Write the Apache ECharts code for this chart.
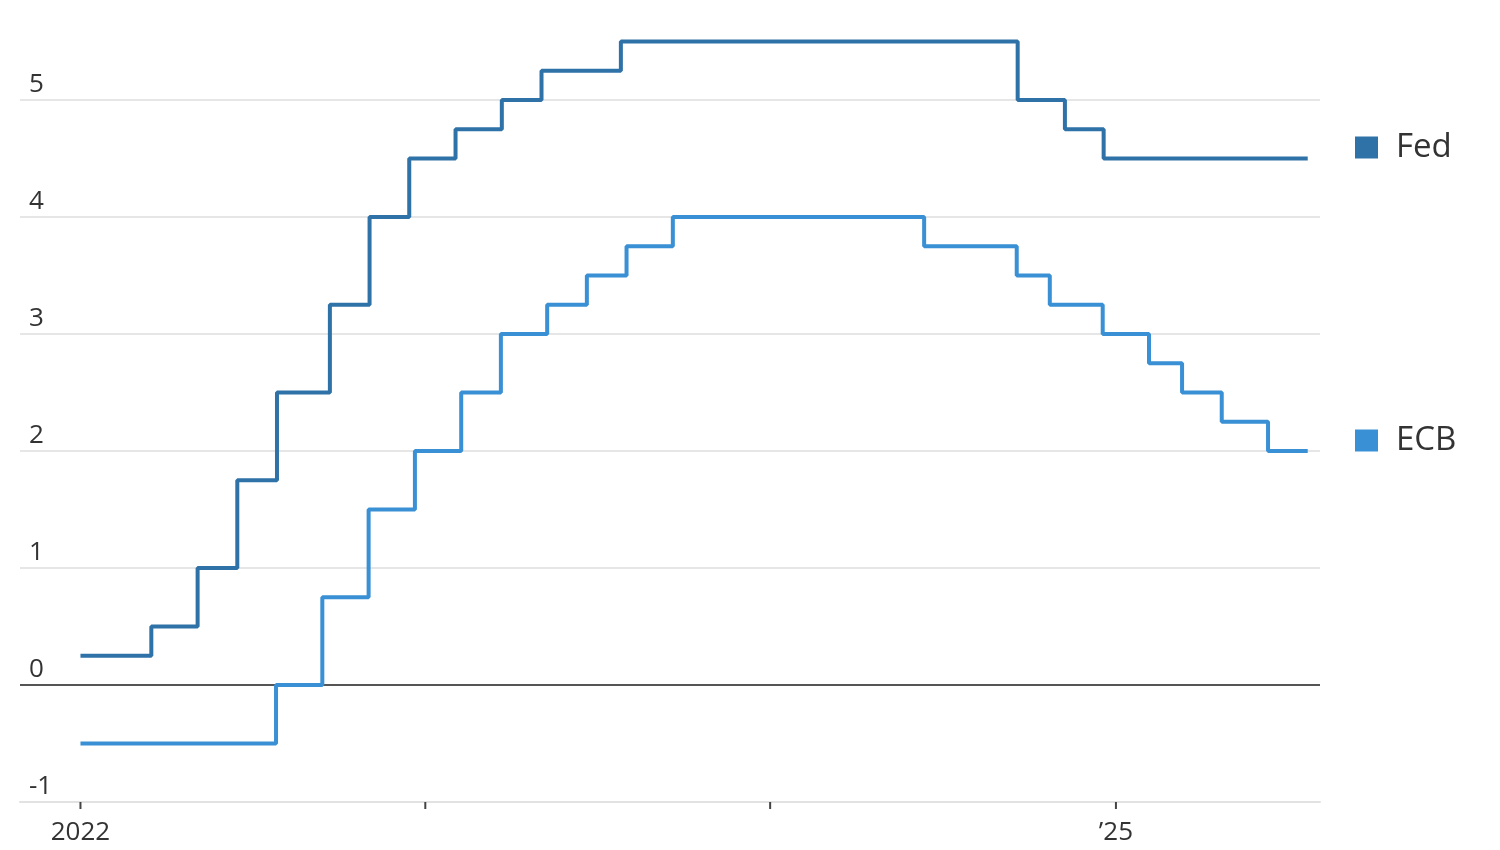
<!DOCTYPE html>
<html>
<head>
<meta charset="utf-8">
<script src="https://cdn.jsdelivr.net/npm/echarts@6/dist/echarts.min.js"></script>
<style>
html,body{margin:0;padding:0;background:#fff;}
#c{width:1500px;height:850px;}
</style>
</head>
<body>
<div id="c"></div>
<script>
// Fed (upper bound) policy rate changes: [effective date, new rate]
var fedDates = ['2022-01-01','2022-03-17','2022-05-05','2022-06-16','2022-07-28','2022-09-22','2022-11-03','2022-12-15','2023-02-02','2023-03-23','2023-05-04','2023-07-27','2024-09-19','2024-11-08','2024-12-19','2025-07-23'];
var fedValues = [0.25,0.5,1.0,1.75,2.5,3.25,4.0,4.5,4.75,5.0,5.25,5.5,5.0,4.75,4.5,4.5];
// ECB deposit rate changes
var ecbDates = ['2022-01-01','2022-07-27','2022-09-14','2022-11-02','2022-12-21','2023-02-08','2023-03-22','2023-05-10','2023-06-21','2023-08-02','2023-09-20','2024-06-12','2024-09-18','2024-10-23','2024-12-18','2025-02-05','2025-03-12','2025-04-23','2025-06-11','2025-07-23'];
var ecbValues = [-0.5,0,0.75,1.5,2.0,2.5,3.0,3.25,3.5,3.75,4.0,3.75,3.5,3.25,3.0,2.75,2.5,2.25,2.0,2.0];
// x tick labels
var xTickDates = ['2022-01-01','2023-01-01','2024-01-01','2025-01-01'];
var xTickLabels = ['2022','','','\u201925'];
var yTicks = [-1,0,1,2,3,4,5];

function pairs(d, v){ return d.map(function(x,i){ return [x, v[i]]; }); }
var tickTimes = xTickDates.map(function(d){ return +new Date(d + 'T00:00:00Z'); });

var gridLines = yTicks.filter(function(v){ return v !== 0 && v !== -1; }).map(function(v){
  return { yAxis: v, lineStyle: { color: '#e6e6e6', width: 2, type: 'solid' } };
});
gridLines.push({ yAxis: 0, lineStyle: { color: '#555', width: 2, type: 'solid' } });

var chart = echarts.init(document.getElementById('c'));
var FED = '#2f72a8', ECB = '#3a90d4';
chart.setOption({
  animation: false,
  backgroundColor: '#fff',
  textStyle: { fontFamily: 'Open Sans, Noto Sans, sans-serif' },
  grid: { left: 20, right: 180, top: 0, bottom: 48, containLabel: false },
  legend: [
    { data: ['Fed'], left: 1355, top: 131, padding: 0, icon: 'rect', itemWidth: 23, itemHeight: 22, itemGap: 19,
      textStyle: { fontSize: 33, color: '#333', padding: [0,0,0,13] } },
    { data: ['ECB'], left: 1355, top: 424, padding: 0, icon: 'rect', itemWidth: 23, itemHeight: 22, itemGap: 19,
      textStyle: { fontSize: 33, color: '#333', padding: [0,0,0,13] } }
  ],
  xAxis: {
    type: 'time',
    min: '2021-10-29',
    max: '2025-08-05',
    axisLine: { show: true, onZero: false, lineStyle: { color: '#e2e2e2', width: 2 } },
    axisTick: { show: false },
    splitLine: { show: false },
    axisLabel: { show: false }
  },
  yAxis: {
    type: 'value',
    min: -1, max: 5.855, interval: 1,
    axisLine: { show: false },
    axisTick: { show: false },
    splitLine: { show: false },
    axisLabel: {
      inside: true, margin: 9, verticalAlign: 'bottom', padding: [0,0,2,0],
      fontSize: 26, color: '#333',
      formatter: function(v){ return yTicks.indexOf(v) >= 0 ? String(v) : ''; }
    }
  },
  series: [
    {
      name: 'Fed', type: 'line', step: 'end', symbol: 'none',
      data: pairs(fedDates, fedValues),
      lineStyle: { color: FED, width: 4 }, itemStyle: { color: FED },
      z: 3,
      markLine: {
        silent: true, symbol: 'none', label: { show: false }, z: 1,
        data: gridLines
      }
    },
    {
      name: 'ECB', type: 'line', step: 'end', symbol: 'none',
      data: pairs(ecbDates, ecbValues),
      lineStyle: { color: ECB, width: 4 }, itemStyle: { color: ECB },
      z: 3
    },
    {
      name: 'ticks', type: 'custom', silent: true, z: 4,
      data: tickTimes.map(function(t, i){ return [t, -1, i]; }),
      renderItem: function(params, api){
        var p = api.coord([api.value(0), -1]);
        var idx = api.value(2);
        return { type: 'group', children: [
          { type: 'line', shape: { x1: p[0], y1: p[1], x2: p[0], y2: p[1] + 7 },
            style: { stroke: '#444', lineWidth: 2 } },
          { type: 'text', x: p[0], y: p[1] + 18,
            style: { text: xTickLabels[idx], fontSize: 26, fill: '#333', align: 'center', verticalAlign: 'top',
                     fontFamily: 'Open Sans, Noto Sans, sans-serif' } }
        ]};
      }
    }
  ]
});
</script>
</body>
</html>
